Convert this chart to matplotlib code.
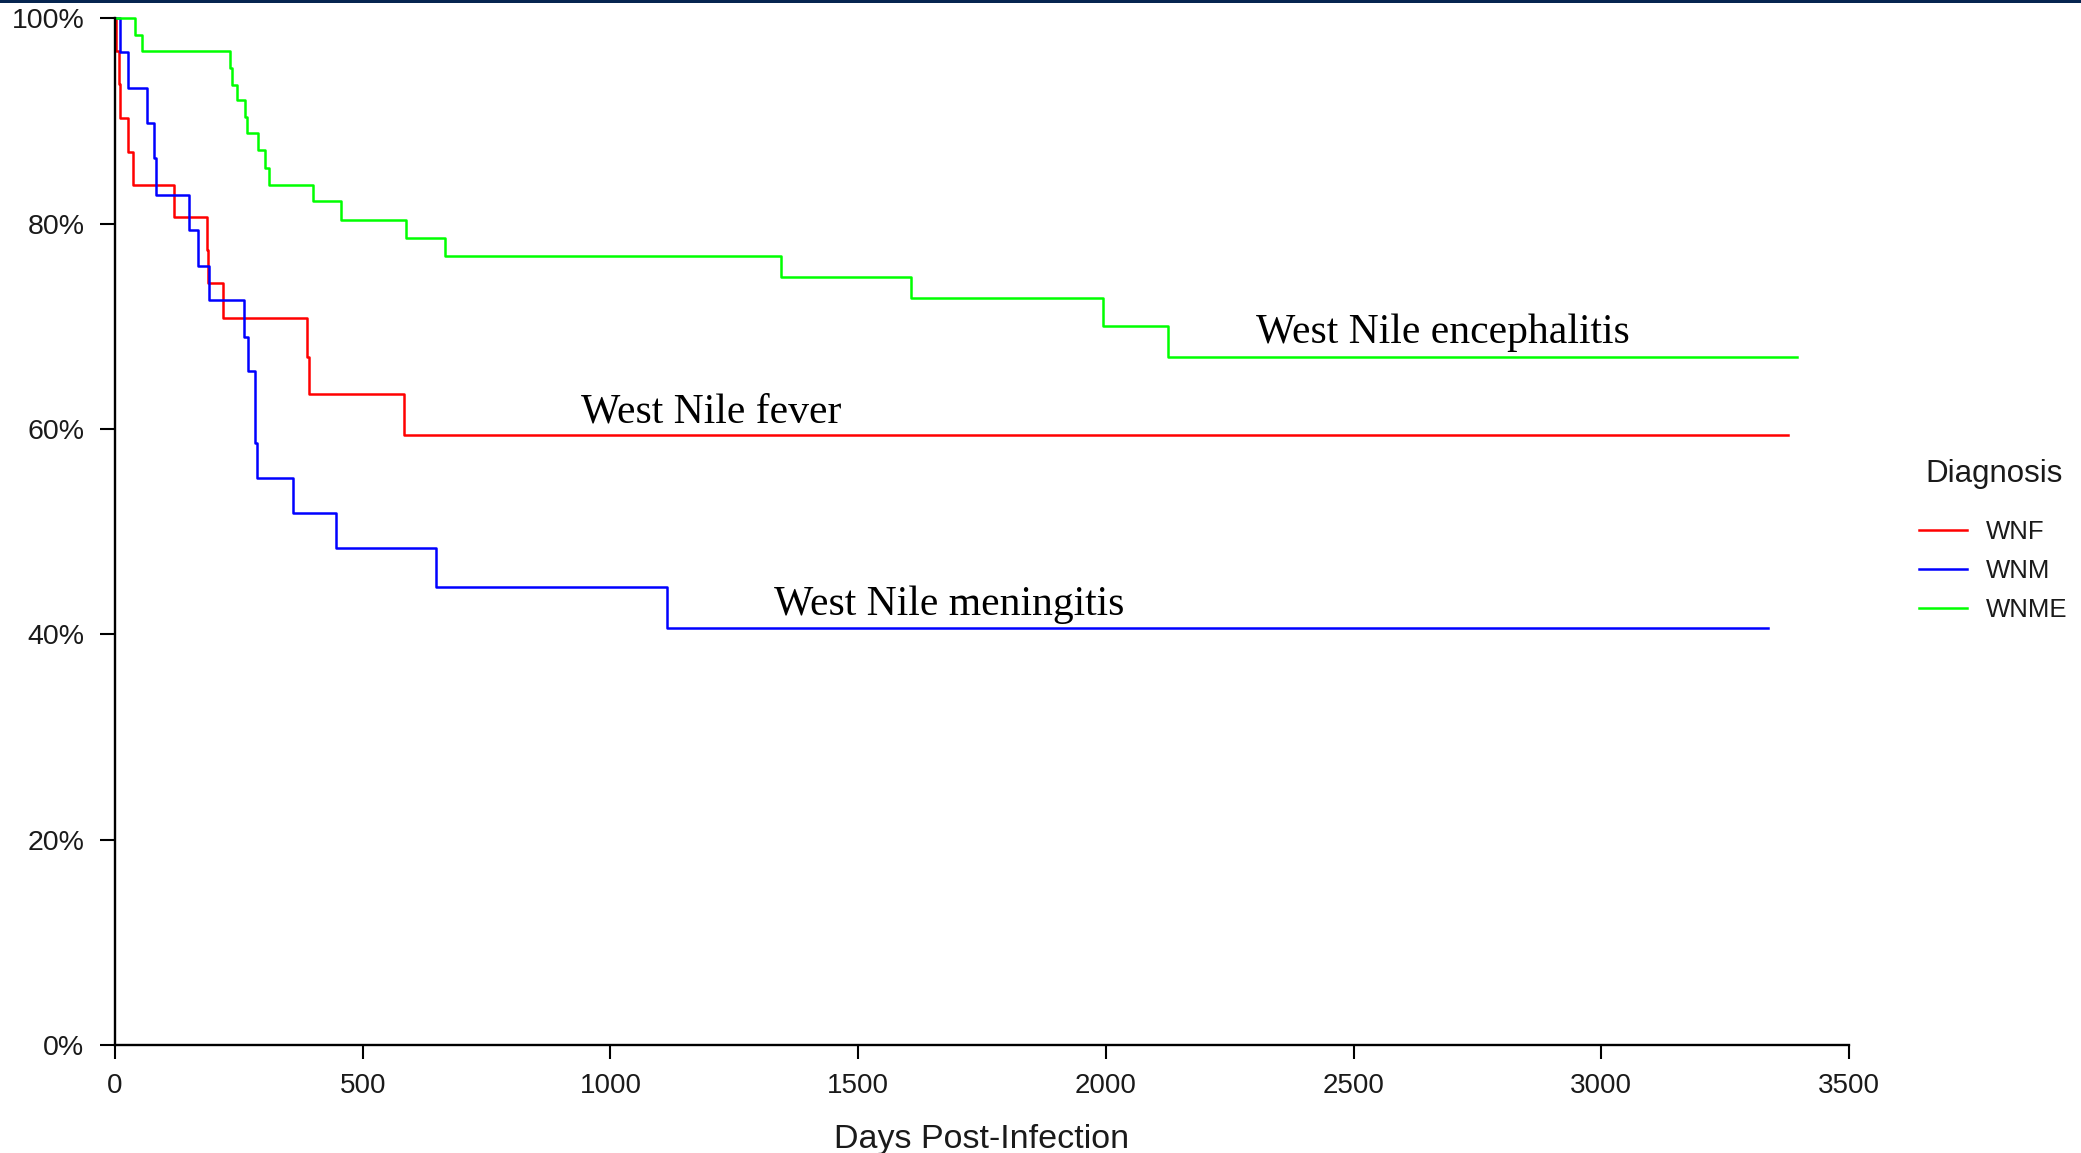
import matplotlib
matplotlib.use("Agg")
import matplotlib.pyplot as plt
from matplotlib.patches import Rectangle
from matplotlib.ticker import PercentFormatter

# === 1. Kaplan-Meier step data ===
wnf_days = [0, 3, 8, 11, 27, 37, 120, 185, 188, 219, 387, 392, 583, 3377]
wnf_surv = [100, 96.8, 93.6, 90.3, 87.0, 83.8, 80.6, 77.4, 74.2, 70.8, 67.0, 63.4, 59.4, 59.4]

wnm_days = [0, 11, 27, 64, 79, 83, 149, 167, 190, 260, 269, 283, 287, 359, 447, 648, 1114, 3337]
wnm_surv = [100, 96.7, 93.2, 89.8, 86.4, 82.8, 79.4, 75.9, 72.6, 69.0, 65.6, 58.6, 55.2,
            51.8, 48.4, 44.6, 40.6, 40.6]

wnme_days = [0, 40, 55, 232, 237, 247, 262, 266, 288, 303, 311, 400, 456, 587, 666,
             1344, 1606, 1994, 2126, 3395]
wnme_surv = [100, 98.4, 96.8, 95.2, 93.5, 92.0, 90.4, 88.8, 87.2, 85.4, 83.8, 82.2, 80.4,
             78.6, 76.8, 74.8, 72.8, 70.0, 67.0, 67.0]

group_labels = ["WNF", "WNM", "WNME"]
group_colors = ["#ff0000", "#0000ff", "#00ff00"]

annot_texts = ["West Nile fever", "West Nile meningitis", "West Nile encephalitis"]
annot_pos = [(940, 60.6), (1330, 41.9), (2304, 68.4)]

x_ticks = [0, 500, 1000, 1500, 2000, 2500, 3000, 3500]
y_ticks = [0, 20, 40, 60, 80, 100]

# === 2. Figure ===
W, H = 2081, 1153
fig = plt.figure(figsize=(W / 100, H / 100), dpi=100)
ax = fig.add_axes([115 / W, 1 - 1045 / H, (1849 - 115) / W, (1045 - 18.3) / H])

sans = ["Liberation Sans", "DejaVu Sans"]
serif = ["Liberation Serif", "DejaVu Serif"]

series = [(wnf_days, wnf_surv), (wnm_days, wnm_surv), (wnme_days, wnme_surv)]
handles = []
for (d, s), lab, col in zip(series, group_labels, group_colors):
    ln, = ax.step(d, s, where="post", color=col, lw=1.8, label=lab, clip_on=False)
    handles.append(ln)

for txt, (x, y) in zip(annot_texts, annot_pos):
    ax.text(x, y, txt, family=serif, fontsize=30, ha="left", va="baseline", color="black")

ax.set_xlim(0, 3500)
ax.set_ylim(0, 100)
ax.set_xticks(x_ticks)
ax.set_yticks(y_ticks)
ax.yaxis.set_major_formatter(PercentFormatter(100, decimals=0))

for sp in ["top", "right"]:
    ax.spines[sp].set_visible(False)
for sp in ["left", "bottom"]:
    ax.spines[sp].set_linewidth(1.7)
    ax.spines[sp].set_color("black")

ax.tick_params(axis="y", length=11, width=1.5, pad=11, labelsize=20.5, colors="black")
ax.tick_params(axis="x", length=10, width=1.5, pad=10, labelsize=20, colors="black")
for lbl in ax.get_xticklabels() + ax.get_yticklabels():
    lbl.set_family(sans)
    lbl.set_color("#1a1a1a")

ax.set_xlabel("Days Post-Infection", family=sans, fontsize=24.5, color="#1a1a1a", labelpad=18)

# legend
fig.text(1925 / W, 1 - 474 / H, "Diagnosis", family=sans, fontsize=22.5,
         color="#1a1a1a", ha="left", va="center")
leg = fig.legend(handles=handles, labels=group_labels, loc="center left",
                 bbox_to_anchor=(1919 / W, 1 - 571 / H), frameon=False,
                 borderpad=0, borderaxespad=0, handlelength=1.85, handletextpad=0.75,
                 labelspacing=0.6, prop={"family": sans, "size": 18.5})
for t in leg.get_texts():
    t.set_color("#1a1a1a")

# thin navy band at the very top
fig.add_artist(Rectangle((0, 1 - 3 / H), 1, 3 / H, transform=fig.transFigure,
                         color="#062550", lw=0))

fig.savefig("out.png", dpi=100)
